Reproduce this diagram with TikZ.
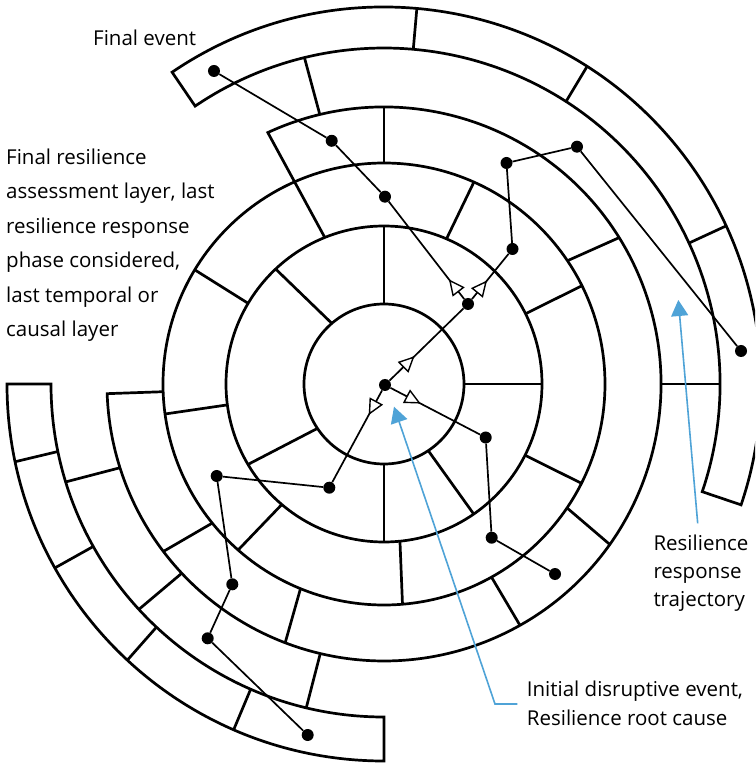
\documentclass[tikz,border=0pt]{standalone}
\usepackage{fontspec}
\setmainfont{Open Sans}
\usetikzlibrary{arrows.meta,decorations.markings}
\definecolor{trajblue}{RGB}{79,163,215}
\tikzset{
  ring/.style={line width=2.7pt, line join=miter},
  link/.style={line width=1.7pt},
  event/.style={circle, fill=black, inner sep=0pt, minimum size=12pt},
  midarrow/.style={postaction={decorate}, decoration={markings,
      mark=at position #1 with {\arrow{Triangle[open, fill=white, length=16pt, width=15pt, line width=1.4pt]}}}},
  pointer/.style={trajblue, line width=1.6pt, -{Triangle[length=16pt, width=17pt]}},
  notetext/.style={inner sep=0pt, anchor=north west, align=left},
  widelines/.style={font=\fontsize{20.5}{34.5}\selectfont},
  closelines/.style={font=\fontsize{20.5}{28.3}\selectfont},
}
\begin{document}
\begin{tikzpicture}[x=1pt, y=1pt]
  % page area, centre of the rings at the origin
  \fill[white] (-384,-381) rectangle (371,384);
  \clip (-384,-381) rectangle (371,384);

  % full rings
  \draw[ring] (0,0) circle[radius=80];
  \draw[ring] (0,0) circle[radius=158];
  \draw[ring] (0,0) circle[radius=221];

  % outer band, upper right
  \draw[ring] (124.2:377) arc[start angle=124.2, end angle=-18.7, radius=377]
    -- (-18.7:336) arc[start angle=-18.7, end angle=124.2, radius=336] -- cycle;
  % outer band, lower left
  \draw[ring] (180:377) arc[start angle=180, end angle=270, radius=377]
    -- (270:333) arc[start angle=270, end angle=180, radius=333] -- cycle;
  % third band, open on the left
  \draw[ring] (112:158) -- (114.8:277) arc[start angle=114.8, end angle=-178, radius=277]
    -- (-178:221);

  % cell dividers: angle/radius -- angle/radius
  \foreach \a/\r/\b/\s in {
      0/80/0/158, 90/80/90/158, 130.7/80/133.3/158, 213.7/80/210.6/158,
      270/80/270/158, -56.4/80/-55.4/158,
      66.7/158/66/221, 26.4/158/26.4/221, -26.8/158/-26.7/221,
      -84.2/158/-85.2/221, 229.7/158/228.7/221, 187.6/158/187.8/221,
      149.3/158/148.9/221,
      90/221/90/277, 33.9/221/31.9/277, -34.1/221/-35.4/277,
      -60.9/221/-60.6/277, 247.8/221/249.1/277, 219/221/217.2/277,
      103.4/277/103.7/336, 0/277/0/336, 197.6/277/197.1/333,
      223.1/277/222.6/333, 256.7/277/256.5/333,
      85/336/85/377, 57.2/336/57.4/377, 24.8/336/24.8/377,
      191.7/333/191.9/377, 209.2/333/209.2/377, 226.9/333/227.1/377,
      246.4/333/246.5/377}
    \draw[ring] (\a:\r) -- (\b:\s);

  % events
  \node[event] (n0) at (1,-1) {};
  \node[event] (n1) at (84,80) {};
  \node[event] (n2) at (128.5,135) {};
  \node[event] (n3) at (122.5,221) {};
  \node[event] (n4) at (193,237.3) {};
  \node[event] (n5) at (357,33) {};
  \node[event] (n6) at (1,187.3) {};
  \node[event] (n7) at (-52.3,243.2) {};
  \node[event] (n8) at (-170,313) {};
  \node[event] (n9) at (101.7,-53.5) {};
  \node[event] (n10) at (107.7,-153.7) {};
  \node[event] (n11) at (171,-190) {};
  \node[event] (n12) at (-54.7,-103.7) {};
  \node[event] (n13) at (-167.3,-92) {};
  \node[event] (n14) at (-151.7,-200.3) {};
  \node[event] (n15) at (-176.3,-254.3) {};
  \node[event] (n16) at (-76.3,-351) {};

  % trajectories
  \draw[link, midarrow=35pt] (n0) -- (n1);
  \draw[link, midarrow=24pt] (n1) -- (n2);
  \draw[link, midarrow=25pt] (n1) -- (n6);
  \draw[link] (n2) -- (n3);
  \draw[link] (n3) -- (n4);
  \draw[link] (n4) -- (n5);
  \draw[link] (n6) -- (n7);
  \draw[link] (n7) -- (n8);
  \draw[link, midarrow=34pt] (n0) -- (n9);
  \draw[link] (n9) -- (n10);
  \draw[link] (n10) -- (n11);
  \draw[link, midarrow=28pt] (n0) -- (n12);
  \draw[link] (n12) -- (n13);
  \draw[link] (n13) -- (n14);
  \draw[link] (n14) -- (n15);
  \draw[link] (n15) -- (n16);

  % texts
  \node[notetext, widelines] (finalevent) at (-291,354.6) {Final event};
  \node[notetext, widelines] (finallayer) at (-378,235.3)
    {Final resilience\\assessment layer, last\\resilience response\\phase considered,\\last temporal or\\causal layer};
  \node[notetext, closelines] (trajtext) at (269.3,-150.4) {Resilience\\response\\trajectory};
  \node[notetext, closelines] (roottext) at (142.7,-297.1) {Initial disruptive event,\\Resilience root cause};

  % pointers
  \coordinate (rootfoot) at (133.3,-320);
  \coordinate (rootbend) at (111,-320);
  \coordinate (roottip) at (10,-22.7);
  \draw[pointer] (rootfoot) -- (rootbend) -- (roottip);
  \coordinate (trajfoot) at (313.7,-139.3);
  \coordinate (trajtip) at (294.3,84);
  \draw[pointer] (trajfoot) -- (trajtip);
\end{tikzpicture}
\end{document}
